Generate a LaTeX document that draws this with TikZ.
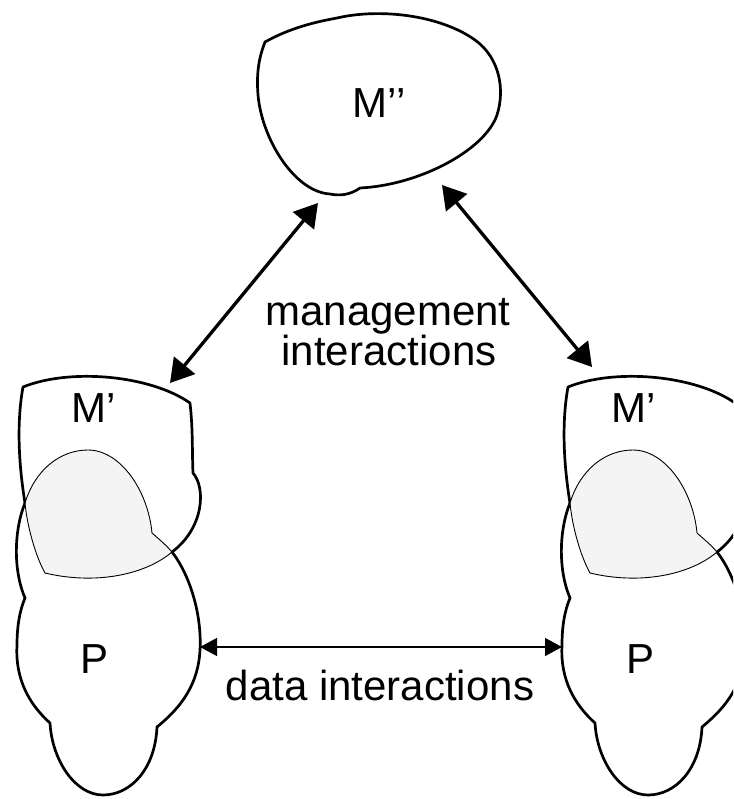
\documentclass[tikz,border=0pt]{standalone}
\usepackage{fontspec}
\setmainfont{Liberation Sans}
\usetikzlibrary{arrows.meta}
\definecolor{lens}{HTML}{F4F4F4}
\tikzset{
  blobthick/.style={line width=2.7pt, line join=round},
  blobthin/.style={line width=0.9pt, line join=round},
  lbl/.style={anchor=base, inner sep=0pt, font=\fontsize{42}{40}\selectfont},
  mgmt/.style={line width=3.3pt, {Triangle[length=23pt,width=27pt]}-{Triangle[length=23pt,width=27pt]}},
  dataarrow/.style={line width=1.3pt, {Triangle[length=17pt,width=18pt]}-{Triangle[length=17pt,width=18pt]}},
}
\def\Mpath{(23,387) .. controls (70,368) and (150,375) .. (190,403)
  .. controls (193,430) and (192,450) .. (193,473)
  .. controls (206,488) and (204,528) .. (172,552)
  .. controls (145,575) and (95,585) .. (45,573)
  .. controls (35,555) and (27,525) .. (25,503)
  .. controls (18,460) and (17,420) .. (23,387) -- cycle}
\def\Ppath{(25,598) .. controls (13,570) and (14,530) .. (25,503)
  .. controls (35,470) and (60,450) .. (88,450)
  .. controls (120,450) and (148,490) .. (152,533)
  .. controls (160,540) and (166,545) .. (172,552)
  .. controls (190,575) and (202,615) .. (200,650)
  .. controls (198,690) and (175,712) .. (157,727)
  .. controls (155,770) and (130,795) .. (103,795)
  .. controls (75,795) and (52,760) .. (50,723)
  .. controls (30,705) and (15,680) .. (17,645)
  .. controls (17,625) and (20,610) .. (25,598) -- cycle}
\newcommand\blobpair{%
  \begin{scope}
    \clip \Ppath;
    \fill[lens] \Mpath;
  \end{scope}
  \draw[blobthin] \Mpath;
  \draw[blobthin] \Ppath;
  \begin{scope}[even odd rule]
    \clip (-100,-100) rectangle (900,900) \Ppath;
    \draw[blobthick] \Mpath;
  \end{scope}
  \begin{scope}[even odd rule]
    \clip (-100,-100) rectangle (900,900) \Mpath;
    \draw[blobthick] \Ppath;
  \end{scope}
}
\begin{document}
\begin{tikzpicture}[x=1pt,y=-1pt]
  \useasboundingbox (0,0) rectangle (733,799);
  \clip (0,0) rectangle (733,799);
  % top blob M''
  \draw[blobthick] (265,42) .. controls (290,28) and (315,22) .. (337,18)
    .. controls (380,8) and (440,15) .. (475,40)
    .. controls (500,58) and (505,90) .. (497,115)
    .. controls (485,150) and (420,185) .. (360,188)
    .. controls (350,195) and (340,196) .. (330,194)
    .. controls (295,192) and (262,140) .. (258,95)
    .. controls (256,70) and (260,55) .. (265,42) -- cycle;
  % left and right pairs
  \blobpair
  \begin{scope}[xshift=545pt]
    \blobpair
  \end{scope}
  % labels
  \node[lbl] (mpp) at (379,118) {M’’};
  \node[lbl] (mpl) at (94,422) {M’};
  \node[lbl] (mpr) at (634,422) {M’};
  \node[lbl] (pl) at (95,673) {P};
  \node[lbl] (pr) at (640,673) {P};
  \node[lbl] (mg1) at (388,325) {management};
  \node[lbl] (mg2) at (389,365) {interactions};
  \node[lbl] (di) at (380,700) {data interactions};
  % arrow end points on blob outlines
  \coordinate (tl) at (318,203);
  \coordinate (tr) at (442,185);
  \coordinate (ml) at (170,383);
  \coordinate (mr) at (592,367);
  \coordinate (dl) at (200,647);
  \coordinate (dr) at (562,647);
  \draw[mgmt] (ml) -- (tl);
  \draw[mgmt] (tr) -- (mr);
  \draw[dataarrow] (dl) -- (dr);
\end{tikzpicture}
\end{document}
